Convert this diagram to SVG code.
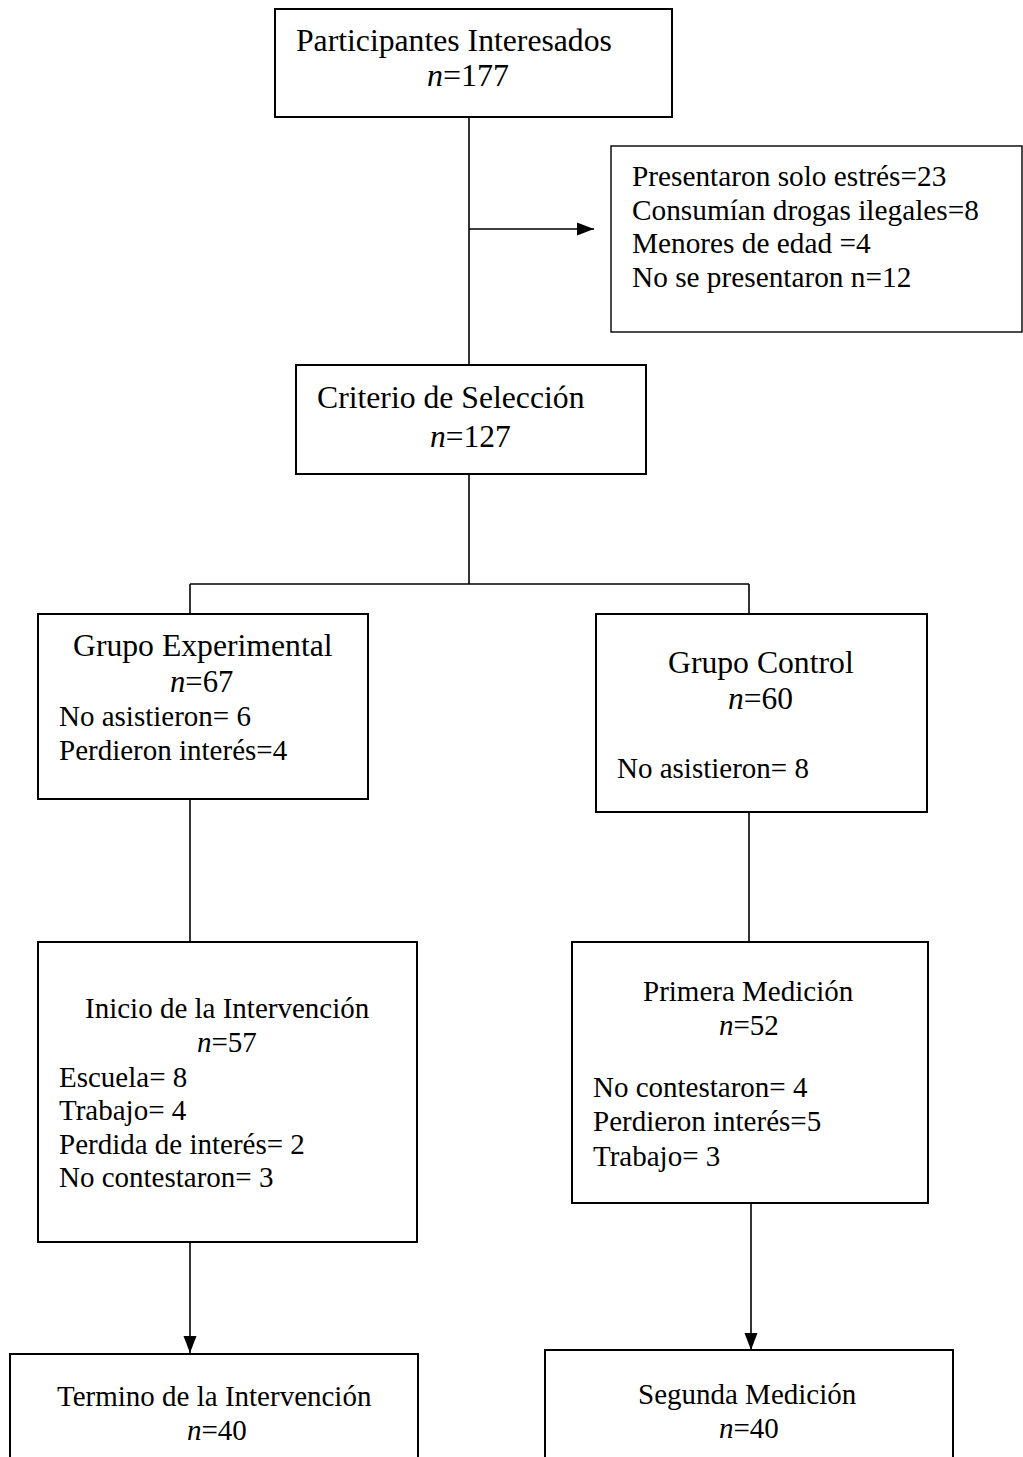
<svg xmlns="http://www.w3.org/2000/svg" width="1023" height="1457" viewBox="0 0 1023 1457">
<defs>
<style>
.box{fill:#fff;stroke:#000;stroke-width:2}
.thin{fill:#fff;stroke:#000;stroke-width:1.4}
.ln{fill:none;stroke:#000;stroke-width:1.6}
text{font-family:"Liberation Serif","Times New Roman",serif;fill:#000;font-size:29px}
.t{font-size:31.7px}
.i{font-style:italic}
</style>
<marker id="ah" markerUnits="userSpaceOnUse" markerWidth="18" markerHeight="14" viewBox="0 0 18 14" refX="17" refY="7" orient="auto">
<path d="M0,0.5 L17,7 L0,13.5 Z" fill="#000"/>
</marker>
</defs>
<rect width="1023" height="1457" fill="#fff"/>
<g id="connectors">
<line class="ln" x1="469" y1="117" x2="469" y2="365"/>
<line class="ln" x1="469" y1="229" x2="594" y2="229" marker-end="url(#ah)"/>
<line class="ln" x1="469" y1="474" x2="469" y2="584"/>
<line class="ln" x1="190" y1="584" x2="749" y2="584"/>
<line class="ln" x1="190" y1="584" x2="190" y2="614"/>
<line class="ln" x1="749" y1="584" x2="749" y2="614"/>
<line class="ln" x1="190" y1="799" x2="190" y2="942"/>
<line class="ln" x1="749" y1="812" x2="749" y2="942"/>
<line class="ln" x1="190" y1="1242" x2="190" y2="1353" marker-end="url(#ah)"/>
<line class="ln" x1="751" y1="1203" x2="751" y2="1350" marker-end="url(#ah)"/>
</g>
<g id="n-participantes">
<rect class="box" x="275" y="9" width="397" height="108"/>
<text class="t" x="296" y="51">Participantes Interesados</text>
<text x="427" y="86" style="font-size:32px"><tspan class="i">n</tspan>=177</text>
</g>
<g id="n-exclusion">
<rect class="thin" x="611" y="146" width="411" height="186"/>
<text x="632" y="186" style="font-size:29.3px">Presentaron solo estrés=23</text>
<text x="632" y="219.5" style="font-size:29.3px">Consumían drogas ilegales=8</text>
<text x="632" y="253" style="font-size:29.3px">Menores de edad =4</text>
<text x="632" y="286.5" style="font-size:29.3px">No se presentaron n=12</text>
</g>
<g id="n-criterio">
<rect class="box" x="296" y="365" width="350" height="109"/>
<text class="t" x="317" y="408">Criterio de Selección</text>
<text x="430" y="447" style="font-size:31.5px"><tspan class="i">n</tspan>=127</text>
</g>
<g id="n-experimental">
<rect class="box" x="38" y="614" width="330" height="185"/>
<text class="t" x="73" y="656">Grupo Experimental</text>
<text x="170" y="692" style="font-size:30.7px"><tspan class="i">n</tspan>=67</text>
<text x="59" y="726">No asistieron= 6</text>
<text x="59" y="760">Perdieron interés=4</text>
</g>
<g id="n-control">
<rect class="box" x="596" y="614" width="331" height="198"/>
<text class="t" x="668" y="673">Grupo Control</text>
<text x="728" y="709" style="font-size:31.5px"><tspan class="i">n</tspan>=60</text>
<text x="617" y="778">No asistieron= 8</text>
</g>
<g id="n-inicio">
<rect class="box" x="38" y="942" width="379" height="300"/>
<text x="85" y="1018">Inicio de la Intervención</text>
<text x="197" y="1052"><tspan class="i">n</tspan>=57</text>
<text x="59" y="1087">Escuela= 8</text>
<text x="59" y="1120">Trabajo= 4</text>
<text x="59" y="1154">Perdida de interés= 2</text>
<text x="59" y="1187">No contestaron= 3</text>
</g>
<g id="n-primera">
<rect class="box" x="572" y="942" width="356" height="261"/>
<text x="643" y="1001">Primera Medición</text>
<text x="719" y="1035"><tspan class="i">n</tspan>=52</text>
<text x="593" y="1097">No contestaron= 4</text>
<text x="593" y="1131">Perdieron interés=5</text>
<text x="593" y="1166">Trabajo= 3</text>
</g>
<g id="n-termino">
<rect class="box" x="10" y="1354" width="408" height="120"/>
<text x="57" y="1406">Termino de la Intervención</text>
<text x="187" y="1440"><tspan class="i">n</tspan>=40</text>
</g>
<g id="n-segunda">
<rect class="box" x="545" y="1350" width="408" height="120"/>
<text x="638" y="1404">Segunda Medición</text>
<text x="719" y="1438"><tspan class="i">n</tspan>=40</text>
</g>
</svg>
